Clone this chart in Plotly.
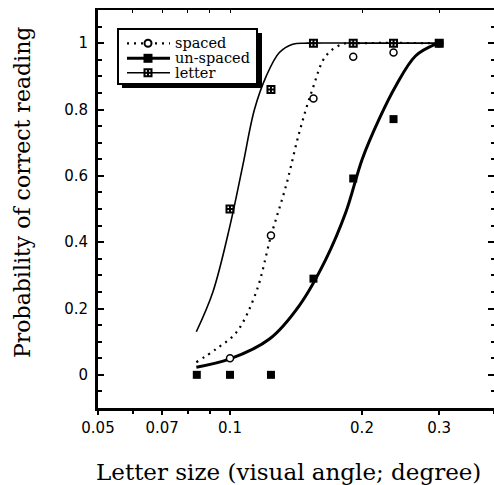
import math
import plotly.graph_objects as go

# ---------------- data ----------------
# measured points
spaced_x = [0.1, 0.124, 0.155, 0.191, 0.236, 0.3]
spaced_y = [0.05, 0.42, 0.833, 0.959, 0.972, 1.0]
unspaced_x = [0.084, 0.1, 0.124, 0.155, 0.191, 0.236, 0.3]
unspaced_y = [0.0, 0.0, 0.0, 0.29, 0.592, 0.771, 1.0]
letter_x = [0.1, 0.124, 0.155, 0.191, 0.236, 0.3]
letter_y = [0.5, 0.86, 1.0, 1.0, 1.0, 1.0]

# fitted curves
letter_fit_x = [0.0838, 0.0914, 0.1, 0.1069, 0.1137, 0.1209, 0.1296, 0.139, 0.15, 0.2, 0.3]
letter_fit_y = [0.13, 0.25, 0.45, 0.63, 0.80, 0.90, 0.972, 0.997, 1.0, 1.0, 1.0]
spaced_fit_x = [0.0838, 0.093, 0.1034, 0.1147, 0.1241, 0.1342, 0.1439, 0.1542, 0.1655, 0.1805, 0.2, 0.3]
spaced_fit_y = [0.038, 0.078, 0.128, 0.249, 0.42, 0.57, 0.731, 0.861, 0.962, 0.997, 1.0, 1.0]
unspaced_fit_x = [0.0838, 0.1, 0.123, 0.1439, 0.1655, 0.1837, 0.2003, 0.2188, 0.2388, 0.2652, 0.2945, 0.3]
unspaced_fit_y = [0.023, 0.048, 0.108, 0.209, 0.349, 0.49, 0.651, 0.771, 0.871, 0.962, 0.997, 1.0]

x_tickvals = [0.05, 0.07, 0.1, 0.2, 0.3]
x_ticktext = ["0.05", "0.07", "0.1", "0.2", "0.3"]
x_minor = [0.06, 0.08, 0.09, 0.4]
y_tickvals = [0, 0.2, 0.4, 0.6, 0.8, 1.0]
y_ticktext = ["0", "0.2", "0.4", "0.6", "0.8", "1"]

series_names = ["spaced", "un-spaced", "letter"]
x_title = "Letter size (visual angle; degree)"
y_title = "Probability of correct reading"

# ---------------- layout geometry ----------------
W, H = 494, 485
L, R, T, B = 98, 0, 10, 77
PW, PH = W - L - R, H - T - B


def px(xp):
    return (xp - L) / PW


def py(yp):
    return (H - B - yp) / PH


fig = go.Figure()

# fitted curves
fig.add_trace(go.Scatter(x=letter_fit_x, y=letter_fit_y, mode="lines", line_shape="spline",
                         line=dict(color="black", width=1.6), showlegend=False, hoverinfo="skip"))
fig.add_trace(go.Scatter(x=spaced_fit_x, y=spaced_fit_y, mode="lines", line_shape="spline",
                         line=dict(color="black", width=2.2, dash="2px,5px"), showlegend=False, hoverinfo="skip"))
fig.add_trace(go.Scatter(x=unspaced_fit_x, y=unspaced_fit_y, mode="lines", line_shape="spline",
                         line=dict(color="black", width=3), showlegend=False, hoverinfo="skip"))

# data points
fig.add_trace(go.Scatter(x=spaced_x, y=spaced_y, mode="markers", name=series_names[0],
                         marker=dict(symbol="circle", size=7, color="white", line=dict(color="black", width=1.5)),
                         showlegend=False))
fig.add_trace(go.Scatter(x=letter_x, y=letter_y, mode="markers", name=series_names[2],
                         marker=dict(symbol="square-cross-open", size=7, color="black", line=dict(color="black", width=2)),
                         showlegend=False))
fig.add_trace(go.Scatter(x=unspaced_x, y=unspaced_y, mode="markers", name=series_names[1],
                         marker=dict(symbol="square", size=8, color="black"),
                         showlegend=False))

# dummy trace for mirrored (top/right) axes
fig.add_trace(go.Scatter(x=[0.1], y=[None], xaxis="x2", yaxis="y2", mode="markers",
                         showlegend=False, hoverinfo="skip"))

# legend glyph markers (pixel coordinate axes)
leg_x = 148
leg_rows = [43.3, 58.3, 72.7]
fig.add_trace(go.Scatter(x=[leg_x], y=[leg_rows[0]], xaxis="x3", yaxis="y3", mode="markers",
                         marker=dict(symbol="circle", size=7, color="white", line=dict(color="black", width=2)),
                         showlegend=False, hoverinfo="skip"))
fig.add_trace(go.Scatter(x=[leg_x], y=[leg_rows[1]], xaxis="x3", yaxis="y3", mode="markers",
                         marker=dict(symbol="square", size=9, color="black"),
                         showlegend=False, hoverinfo="skip"))
fig.add_trace(go.Scatter(x=[leg_x], y=[leg_rows[2]], xaxis="x3", yaxis="y3", mode="markers",
                         marker=dict(symbol="square-cross-open", size=7, color="black", line=dict(color="black", width=2)),
                         showlegend=False, hoverinfo="skip"))

xr = [math.log10(0.05), math.log10(0.4)]
yr = [-0.1, 1.1]
tickfont = dict(family="DejaVu Sans, Arial, sans-serif", size=15, color="black")

fig.update_layout(
    width=W, height=H,
    margin=dict(l=L, r=R, t=T, b=B, pad=0),
    paper_bgcolor="white", plot_bgcolor="white",
    showlegend=False,
    xaxis=dict(type="log", range=xr, tickvals=x_tickvals, ticktext=x_ticktext,
               ticks="outside", ticklen=4, tickwidth=1.5, tickcolor="black",
               minor=dict(tickvals=x_minor, ticks="outside", ticklen=3, tickcolor="black"),
               showline=True, linewidth=3, linecolor="black", showgrid=False, zeroline=False,
               tickfont=tickfont),
    yaxis=dict(range=yr, tickvals=y_tickvals, ticktext=y_ticktext,
               ticks="inside", ticklen=6, tickwidth=1.5, tickcolor="black",
               minor=dict(dtick=0.05, tick0=0, ticks="inside", ticklen=4, tickcolor="black"),
               showline=True, linewidth=3, linecolor="black", showgrid=False, zeroline=False,
               tickfont=tickfont, ticklabelstandoff=4),
    xaxis2=dict(type="log", range=xr, overlaying="x", side="top", anchor="y2",
                tickvals=[0.06, 0.07, 0.08, 0.09, 0.1, 0.2, 0.3], ticks="inside", ticklen=3,
                tickcolor="black", showticklabels=False, showline=True, linewidth=2,
                linecolor="black", showgrid=False, zeroline=False),
    yaxis2=dict(range=yr, overlaying="y", side="right", anchor="x2",
                tickvals=y_tickvals, ticks="inside", ticklen=6, tickwidth=1.5, tickcolor="black",
                minor=dict(dtick=0.05, tick0=0, ticks="inside", ticklen=3, tickcolor="black"),
                showticklabels=False, showline=False, showgrid=False, zeroline=False),
    xaxis3=dict(range=[L, W - R], overlaying="x", anchor="y3", visible=False),
    yaxis3=dict(range=[H - B, T], overlaying="y", anchor="x3", visible=False),
)

# legend box with shadow
shapes = [
    dict(type="rect", xref="paper", yref="paper", x0=px(122), x1=px(262), y0=py(88), y1=py(33),
         fillcolor="black", line=dict(width=0), layer="below"),
    dict(type="rect", xref="paper", yref="paper", x0=px(118), x1=px(257), y0=py(84), y1=py(29),
         fillcolor="white", line=dict(color="black", width=2), layer="below"),
    dict(type="line", xref="paper", yref="paper", x0=px(127), x1=px(170), y0=py(leg_rows[0]), y1=py(leg_rows[0]),
         line=dict(color="black", width=2.2, dash="2px,5px"), layer="below"),
    dict(type="line", xref="paper", yref="paper", x0=px(127), x1=px(170), y0=py(leg_rows[1]), y1=py(leg_rows[1]),
         line=dict(color="black", width=3), layer="below"),
    dict(type="line", xref="paper", yref="paper", x0=px(127), x1=px(170), y0=py(leg_rows[2]), y1=py(leg_rows[2]),
         line=dict(color="black", width=1.4), layer="below"),
]
fig.update_layout(shapes=shapes)

legfont = dict(family="DejaVu Serif, serif", size=14.5, color="black")
annotations = []
for name, yrow in zip(series_names, leg_rows):
    annotations.append(dict(text=name, xref="paper", yref="paper", x=px(173), y=py(yrow),
                            xanchor="left", yanchor="middle", showarrow=False, font=legfont))

annotations.append(dict(text=x_title, xref="paper", yref="paper", x=px(288), y=py(472),
                        xanchor="center", yanchor="middle", showarrow=False,
                        font=dict(family="DejaVu Serif, serif", size=23, color="black")))
annotations.append(dict(text=y_title, xref="paper", yref="paper", x=px(22), y=py(193),
                        xanchor="center", yanchor="middle", showarrow=False, textangle=-90,
                        font=dict(family="DejaVu Serif, serif", size=22, color="black")))
fig.update_layout(annotations=annotations)

fig.write_html("out.html")
